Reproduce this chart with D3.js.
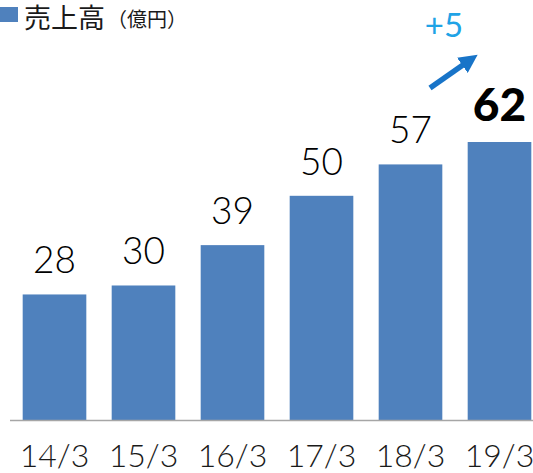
<!DOCTYPE html>
<html>
<head>
<meta charset="utf-8">
<script src="https://cdn.jsdelivr.net/npm/d3@7"></script>
<style>
  html, body { margin: 0; padding: 0; background: #fff; }
  svg { display: block; }
</style>
</head>
<body>
<svg id="chart" width="533" height="473"></svg>
<script>
// Fiscal periods (year/month of fiscal year end)
const periods = ["14/3", "15/3", "16/3", "17/3", "18/3", "19/3"];
// Net sales, 100 million yen
const sales = [28, 30, 39, 50, 57, 62];
const titleMain = "売上高";
const titleUnit = "（億円）";
const deltaLabel = "+5";

const svg = d3.select("#chart");
const W = 533, H = 473;
const baseY = 420;

const x = d3.scaleBand()
  .domain(periods)
  .range([10, 544])
  .paddingInner(0.285)
  .paddingOuter(0.1425);

const y = d3.scaleLinear()
  .domain([0, 62])
  .range([baseY, 142]);

const barColor = "#4f81bd";
const numFont = "Lato, 'Noto Sans', sans-serif";

// Bars
svg.append("g").selectAll("rect")
  .data(sales)
  .join("rect")
  .attr("x", (d, i) => x(periods[i]))
  .attr("y", d => y(d))
  .attr("width", x.bandwidth())
  .attr("height", d => baseY - y(d))
  .attr("fill", barColor);

// Baseline axis
const axis = d3.axisBottom(x).tickSize(0).tickPadding(0);
const gAxis = svg.append("g").attr("transform", `translate(0,${baseY})`).call(axis);
gAxis.select(".domain").remove();
gAxis.selectAll(".tick text")
  .attr("y", 47)
  .attr("dy", 0)
  .attr("font-family", numFont)
  .attr("font-size", 32)
  .attr("font-weight", 300)
  .attr("fill", "#1a1a1a");
svg.append("line")
  .attr("x1", 10).attr("x2", W)
  .attr("y1", baseY + 0.5).attr("y2", baseY + 0.5)
  .attr("stroke", "#a6a6a6")
  .attr("stroke-width", 1.5);

// Value labels
const last = sales.length - 1;
svg.append("g").selectAll("text")
  .data(sales)
  .join("text")
  .attr("x", (d, i) => x(periods[i]) + x.bandwidth() / 2)
  .attr("y", d => y(d) - 21)
  .attr("text-anchor", "middle")
  .attr("font-family", numFont)
  .attr("font-size", (d, i) => i === last ? 46 : 37)
  .attr("font-weight", (d, i) => i === last ? 900 : 300)
  .attr("fill", "#000")
  .text(d => d);

// Legend / title
svg.append("rect")
  .attr("x", 0).attr("y", 7)
  .attr("width", 18).attr("height", 15)
  .attr("fill", barColor);
const title = svg.append("text")
  .attr("x", 24).attr("y", 28)
  .attr("font-family", "'Noto Sans CJK JP', sans-serif")
  .attr("fill", "#1a1a1a");
title.append("tspan").attr("font-size", 27).text(titleMain);
title.append("tspan").attr("font-size", 20).attr("dx", 2).attr("dy", -1).text(titleUnit);

// Growth arrow and delta
const arrowColor = "#1874c8";
const defs = svg.append("defs");
defs.append("marker")
  .attr("id", "head")
  .attr("viewBox", "0 0 10 10")
  .attr("refX", 5).attr("refY", 5)
  .attr("markerWidth", 3.4).attr("markerHeight", 3.4)
  .attr("orient", "auto")
  .append("path")
  .attr("d", "M0,0 L10,5 L0,10 Z")
  .attr("fill", arrowColor);
svg.append("line")
  .attr("x1", 430).attr("y1", 88)
  .attr("x2", 470).attr("y2", 60)
  .attr("stroke", arrowColor)
  .attr("stroke-width", 5.5)
  .attr("marker-end", "url(#head)");
svg.append("text")
  .attr("x", 444).attr("y", 37)
  .attr("text-anchor", "middle")
  .attr("font-family", numFont)
  .attr("font-size", 33)
  .attr("font-weight", 400)
  .attr("fill", "#1fa3e6")
  .text(deltaLabel);
</script>
</body>
</html>
